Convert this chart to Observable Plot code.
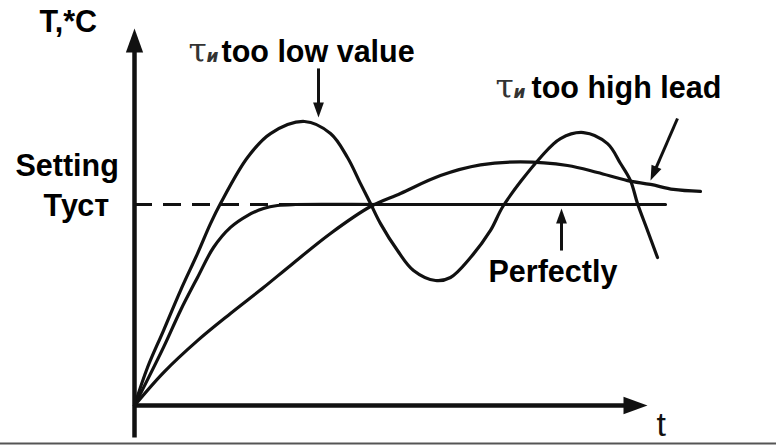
<!DOCTYPE html>
<html><head><meta charset="utf-8">
<script src="https://cdn.jsdelivr.net/npm/d3@7"></script>
<script src="https://cdn.jsdelivr.net/npm/@observablehq/plot@0.6"></script>
<style>html,body{margin:0;padding:0;background:#fff;} svg{display:block;}</style>
</head><body><div id="chart"></div>
<script>
// ---- data (t in time units, T relative to setpoint = 1) ----
const lowT = [0,0.26,0.58,0.92,1.26,1.52,1.72,2.26,2.72,3.4,3.92,4.26,4.52,4.72,4.92,5.26,5.58,6.02,6.32,6.72,7.12,7.38,8.12,8.52,8.98,9.46,9.72,9.92,10.06,10.26,10.46];
const lowV = [0,0.189,0.373,0.572,0.756,0.905,1.005,1.234,1.353,1.413,1.353,1.234,1.104,1.005,0.905,0.771,0.672,0.622,0.637,0.736,0.871,0.995,1.234,1.328,1.358,1.303,1.204,1.119,1.005,0.871,0.736];

const perfT = [0,0.58,0.92,1.26,1.58,1.92,2.26,2.58,2.86,3.22,5,7,9,10.62];
const perfV = [0,0.289,0.473,0.637,0.786,0.886,0.945,0.98,0.995,1,1,1,1,1];

const highT = [0,0.58,1.26,1.92,2.58,3.12,3.92,4.72,5.32,6.12,6.92,7.72,8.66,9.26,9.86,10.32,10.78,11.32];
const highV = [0,0.164,0.323,0.458,0.587,0.697,0.856,0.99,1.055,1.144,1.197,1.212,1.194,1.159,1.119,1.1,1.075,1.065];

const setpoint = 1;
const setpointEnd = 10.62;

// axes extents
const yAxisBottom = -0.159, yAxisTop = 1.876;
const xAxisEnd = 10.26;
const frameBottom = -0.189;

// annotation arrows [tail t, tail T, tip t, tip T]
const annoArrows = [
  [3.68, 1.677, 3.68, 1.433],
  [10.86, 1.428, 10.32, 1.119],
  [8.54, 0.771, 8.54, 0.980]
];

// labels
const labelText = ["T,*C", "too low value", "too high lead", "Setting", "Туст", "Perfectly"];
const labelT = [-1.9, 1.74, 7.94, -2.38, -1.82, 7.08];
const labelV = [1.856, 1.711, 1.532, 1.144, 0.945, 0.612];
const tauT = [1.08, 7.22];
const tauV = [1.711, 1.532];
const subT = [1.44, 7.58];
const tLabel = {t: 10.44, v: -0.152, text: "t"};

// ---- build ----
const W = 776, H = 446;
const xDomain = [-2.68, 12.84], yDomain = [-0.204, 2.015];
const xs = d3.scaleLinear(xDomain, [0, W]);
const ys = d3.scaleLinear(yDomain, [H, 0]);

const toRows = (ts, vs) => ts.map((t, i) => ({t, v: vs[i]}));
const low = toRows(lowT, lowV), perf = toRows(perfT, perfV), high = toRows(highT, highV);

const head = {draw(ctx, size) {
  const r = Math.sqrt(size / Math.PI);
  ctx.moveTo(0, 0); ctx.lineTo(-r * 0.36, r); ctx.lineTo(r * 0.36, r); ctx.closePath();
}};

const axisLines = [
  {x1: 0, y1: yAxisBottom, x2: 0, y2: yAxisTop},
  {x1: 0, y1: 0, x2: xAxisEnd, y2: 0}
];
const axisHeads = [
  {x: 0, y: yAxisTop, a: 0},
  {x: xAxisEnd, y: 0, a: 90}
];
const annoLines = annoArrows.map(([a, b, c, d]) => ({x1: a, y1: b, x2: c, y2: d}));
const annoHeads = annoLines.map(d => {
  const dx = xs(d.x2) - xs(d.x1), dy = ys(d.y2) - ys(d.y1);
  return {x: d.x2, y: d.y2, a: Math.atan2(dx, -dy) * 180 / Math.PI};
});
const labels = labelText.map((text, i) => ({text, t: labelT[i], v: labelV[i]}));
const taus = tauT.map((t, i) => ({t, v: tauV[i], s: subT[i]}));

const sans = "Liberation Sans, Arial, sans-serif";

const chart = Plot.plot({
  width: W, height: H,
  margin: 0,
  style: {background: "#fff"},
  x: {domain: xDomain, axis: null},
  y: {domain: yDomain, axis: null},
  marks: [
    Plot.ruleY([frameBottom], {stroke: "#555", strokeWidth: 2}),
    Plot.ruleY([setpoint], {x1: 0, x2: setpointEnd, stroke: "#111", strokeWidth: 3.2, strokeDasharray: "18,11"}),
    Plot.line(perf, {x: "t", y: "v", stroke: "#111", strokeWidth: 3.2, curve: "catmull-rom"}),
    Plot.line(high, {x: "t", y: "v", stroke: "#111", strokeWidth: 3.2, curve: "catmull-rom"}),
    Plot.line(low, {x: "t", y: "v", stroke: "#111", strokeWidth: 3.2, curve: "catmull-rom"}),
    Plot.arrow(axisLines, {x1: "x1", y1: "y1", x2: "x2", y2: "y2", stroke: "#111", strokeWidth: 4.5, headLength: 0, insetEnd: 14, strokeLinecap: "butt"}),
    Plot.dot(axisHeads, {x: "x", y: "y", rotate: "a", symbol: head, r: 24, fill: "#111", stroke: "none"}),
    Plot.arrow(annoLines, {x1: "x1", y1: "y1", x2: "x2", y2: "y2", stroke: "#111", strokeWidth: 3, headLength: 0, insetEnd: 9, strokeLinecap: "butt"}),
    Plot.dot(annoHeads, {x: "x", y: "y", rotate: "a", symbol: head, r: 15, fill: "#111", stroke: "none"}),
    Plot.text(labels, {x: "t", y: "v", text: "text", textAnchor: "start", lineAnchor: "bottom", fontSize: 30.5, fontWeight: "bold", fontFamily: sans, fill: "#000"}),
    Plot.text(taus, {x: "t", y: "v", text: () => "τ", textAnchor: "start", lineAnchor: "bottom", fontSize: 33, fontFamily: "DejaVu Serif, serif", fill: "#333"}),
    Plot.text(taus, {x: "s", y: "v", text: () => "и", textAnchor: "start", lineAnchor: "bottom", fontSize: 17, fontStyle: "italic", fontWeight: "bold", fontFamily: "DejaVu Sans, sans-serif", fill: "#333"}),
    Plot.text([tLabel], {x: "t", y: "v", text: "text", textAnchor: "start", lineAnchor: "bottom", fontSize: 34, fontFamily: sans, fill: "#111"})
  ]
});
document.getElementById("chart").appendChild(chart);
</script>
</body></html>
